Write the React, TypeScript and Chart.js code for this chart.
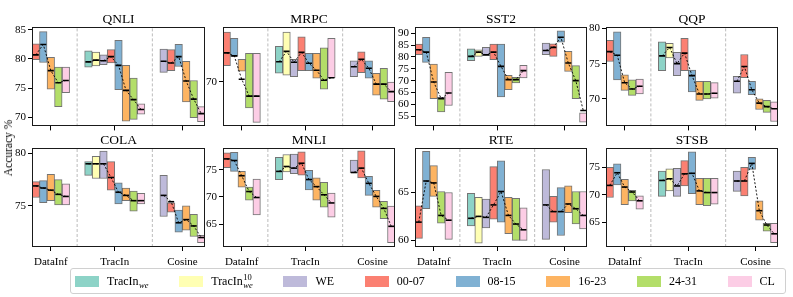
import React, { useEffect, useRef } from "react";
import { Chart, registerables } from "chart.js";

Chart.register(...registerables);

const SERIF = '"Liberation Serif", "Times New Roman", Times, serif';

// ---------------- data ----------------
const METHODS = ["DataInf", "TracIn", "Cosine"];
const SERIES_NAMES = ["TracIn", "TracIn", "WE", "00-07", "08-15", "16-23", "24-31", "CL"];
const SERIES_SUP = ["", "10", "", "", "", "", "", ""];
const SERIES_SUB = ["we", "we", "", "", "", "", "", ""];
const SERIES_COLORS = ["#8dd3c7", "#ffffb3", "#bebada", "#fb8072", "#80b1d3", "#fdb462", "#b3de69", "#fccde5"];
// which series appear inside each method group
const METHOD_SERIES = [
  [3, 4, 5, 6, 7],
  [0, 1, 2, 3, 4, 5, 6, 7],
  [2, 3, 4, 5, 6, 7],
];

const TASKS = ["QNLI", "MRPC", "SST2", "QQP", "COLA", "MNLI", "RTE", "STSB"];

// order in every array: DataInf(5) | TracIn(8) | Cosine(6)
const QNLI_LOW = [79.9, 79.4, 74.8, 71.8, 74.2, 78.6, 78.8, 79.0, 79.3, 74.7, 69.3, 69.6, 70.5, 77.7, 78.0, 78.7, 72.6, 69.9, 69.2];
const QNLI_HIGH = [82.6, 84.7, 80.3, 78.6, 78.6, 81.4, 81.2, 80.7, 81.6, 83.2, 78.9, 76.7, 72.3, 81.7, 81.6, 82.5, 79.6, 76.3, 71.8];
const QNLI_MID = [80.7, 82.5, 78.0, 75.9, 76.3, 79.5, 79.8, 79.7, 80.4, 78.9, 74.6, 73.0, 71.3, 79.6, 79.3, 80.4, 76.2, 73.1, 70.6];

const MRPC_LOW = [73.2, 75.1, 72.1, 64.7, 61.8, 71.7, 71.3, 71.0, 72.2, 72.2, 70.7, 68.5, 70.8, 71.0, 71.8, 70.7, 67.3, 66.5, 66.0];
const MRPC_HIGH = [80.0, 78.7, 74.5, 75.7, 75.7, 77.1, 80.0, 74.5, 79.0, 75.7, 75.7, 76.8, 78.7, 74.2, 76.0, 74.2, 71.7, 72.7, 69.9];
const MRPC_MID = [75.8, 75.2, 70.5, 67.1, 67.1, 74.0, 76.1, 73.9, 75.9, 73.7, 72.3, 70.3, 70.8, 73.0, 74.5, 72.7, 69.5, 69.5, 68.0];

const SST2_LOW = [80.9, 77.7, 62.4, 56.8, 59.5, 78.4, 80.2, 80.5, 78.8, 63.1, 66.2, 69.0, 71.1, 80.9, 80.2, 86.2, 73.9, 62.4, 52.5];
const SST2_HIGH = [85.4, 88.2, 77.0, 63.0, 73.5, 83.4, 83.0, 84.0, 85.4, 85.4, 72.2, 71.4, 76.4, 85.8, 85.5, 91.0, 82.3, 76.3, 56.4];
const SST2_MID = [83.0, 82.0, 69.4, 62.4, 64.8, 80.2, 82.0, 80.9, 82.0, 76.0, 70.4, 70.4, 74.2, 82.7, 84.0, 88.3, 77.4, 70.0, 57.4];

const QQP_LOW = [75.3, 72.7, 71.2, 70.5, 70.7, 74.0, 75.8, 73.3, 74.0, 71.0, 69.8, 70.0, 70.1, 70.8, 73.0, 70.6, 68.5, 68.1, 66.8];
const QQP_HIGH = [78.3, 79.5, 73.4, 72.7, 72.8, 78.1, 77.9, 76.6, 78.6, 74.1, 72.5, 72.5, 72.3, 73.2, 76.3, 72.5, 70.0, 69.8, 69.6];
const QQP_MID = [76.7, 76.2, 72.3, 71.4, 71.8, 76.1, 77.3, 75.0, 76.5, 73.3, 70.7, 70.7, 70.8, 72.5, 74.6, 71.3, 69.4, 68.9, 68.6];

const COLA_LOW = [75.8, 75.3, 75.5, 75.1, 75.1, 77.9, 77.6, 77.6, 76.5, 75.2, 75.5, 74.5, 75.2, 74.0, 74.4, 72.5, 72.7, 72.1, 71.5];
const COLA_HIGH = [77.3, 77.4, 78.0, 77.5, 77.1, 79.2, 79.7, 80.2, 79.2, 77.2, 76.7, 76.4, 76.2, 77.9, 75.3, 74.6, 75.0, 74.2, 72.2];
const COLA_MID = [76.9, 76.7, 76.5, 76.1, 75.9, 79.0, 79.0, 79.0, 77.7, 76.3, 76.0, 75.5, 75.5, 76.0, 75.4, 73.4, 73.7, 73.1, 72.0];

const MNLI_LOW = [75.4, 74.7, 71.8, 69.4, 66.7, 73.2, 74.6, 74.3, 74.0, 71.3, 69.4, 68.1, 66.3, 74.4, 73.5, 70.3, 68.1, 66.0, 61.6];
const MNLI_HIGH = [78.1, 78.2, 74.7, 71.8, 73.3, 77.3, 77.8, 77.9, 78.3, 74.9, 73.5, 72.7, 70.7, 76.8, 78.5, 73.8, 71.2, 69.2, 68.3];
const MNLI_MID = [77.0, 76.7, 73.9, 71.0, 69.9, 74.7, 75.6, 75.3, 76.2, 73.2, 71.9, 70.4, 68.9, 74.5, 75.3, 72.5, 70.1, 67.9, 64.6];

const RTE_LOW = [60.2, 63.3, 64.6, 61.8, 60.1, 61.5, 59.7, 61.3, 62.2, 61.9, 60.7, 60.0, 60.0, 60.1, 61.9, 60.5, 62.9, 61.7, 61.2];
const RTE_HIGH = [63.6, 69.3, 67.8, 65.1, 65.0, 64.9, 64.5, 64.3, 67.7, 68.3, 64.5, 64.4, 63.4, 67.4, 64.6, 65.5, 65.7, 65.1, 65.1];
const RTE_MID = [61.9, 66.2, 66.0, 62.6, 62.1, 62.3, 62.5, 62.4, 63.7, 65.1, 62.6, 61.7, 61.1, 63.7, 63.0, 63.0, 63.8, 63.3, 62.6];

const STSB_LOW = [69.5, 71.8, 68.2, 68.9, 67.4, 69.7, 70.7, 69.7, 71.6, 70.2, 68.2, 68.0, 68.3, 70.6, 69.8, 74.6, 65.4, 63.4, 61.3];
const STSB_HIGH = [75.0, 75.6, 72.8, 70.8, 69.8, 74.3, 74.7, 74.8, 76.2, 77.8, 73.0, 73.0, 73.0, 74.3, 75.0, 76.8, 68.9, 64.8, 64.8];
const STSB_MID = [71.7, 74.0, 71.4, 70.5, 68.9, 72.6, 72.9, 71.6, 73.8, 73.9, 70.7, 70.4, 70.4, 72.5, 72.5, 75.7, 67.1, 64.5, 62.9];

// y tick labels shown on each panel
const QNLI_TICKS = [70, 75, 80, 85];
const MRPC_TICKS = [70];
const SST2_TICKS = [55, 60, 65, 70, 75, 80, 85, 90];
const QQP_TICKS = [70, 75, 80];
const COLA_TICKS = [75, 80];
const MNLI_TICKS = [65, 70, 75];
const RTE_TICKS = [60, 65];
const STSB_TICKS = [65, 70, 75];

const LOWS = [QNLI_LOW, MRPC_LOW, SST2_LOW, QQP_LOW, COLA_LOW, MNLI_LOW, RTE_LOW, STSB_LOW];
const HIGHS = [QNLI_HIGH, MRPC_HIGH, SST2_HIGH, QQP_HIGH, COLA_HIGH, MNLI_HIGH, RTE_HIGH, STSB_HIGH];
const MIDS = [QNLI_MID, MRPC_MID, SST2_MID, QQP_MID, COLA_MID, MNLI_MID, RTE_MID, STSB_MID];
const TICKS = [QNLI_TICKS, MRPC_TICKS, SST2_TICKS, QQP_TICKS, COLA_TICKS, MNLI_TICKS, RTE_TICKS, STSB_TICKS];

// axis limits (scale settings)
const Y_MIN = [68.4, 61, 50.7, 66.1, 71.1, 60.8, 59.3, 60.5];
const Y_MAX = [85.5, 81, 92.6, 80.2, 80.5, 79.0, 69.65, 78.5];

// ---------------- layout ----------------
const COL_LEFT = [32, 223, 415, 606];
const COL_RIGHT = [205, 395, 587, 778];
const ROW_TOP = [27, 148];
const ROW_BOTTOM = [127, 247];

const framePlugin = {
  id: "frame",
  afterDraw(chart: any) {
    const { ctx, chartArea: a } = chart;
    ctx.save();
    ctx.strokeStyle = "#1a1a1a";
    ctx.lineWidth = 1;
    ctx.strokeRect(
      Math.round(a.left) + 0.5,
      Math.round(a.top) + 0.5,
      Math.round(a.right - a.left) - 1,
      Math.round(a.bottom - a.top) - 1
    );
    ctx.restore();
  },
};

function Panel({ idx }: { idx: number }) {
  const ref = useRef<HTMLCanvasElement>(null);
  const col = idx % 4;
  const row = Math.floor(idx / 4);
  const L = COL_LEFT[col], R = COL_RIGHT[col], T = ROW_TOP[row], B = ROW_BOTTOM[row];
  const AW = 30, TH = 20, RP = 2, XH = row === 1 ? 24 : 8;
  const cw = AW + (R - L) + RP;
  const ch = TH + (B - T) + XH;

  useEffect(() => {
    const canvas = ref.current;
    if (!canvas) return;
    const low = LOWS[idx], high = HIGHS[idx], mid = MIDS[idx];
    const yMin = Y_MIN[idx], yMax = Y_MAX[idx];

    const xs: number[] = [];
    const sIdx: number[] = [];
    const groups: number[][] = [];
    const seps: number[] = [];
    const centers: number[] = [];
    let pos = 0;
    METHOD_SERIES.forEach((members, gi) => {
      if (gi > 0) {
        seps.push(pos + 0.5);
        pos += 2;
      }
      const g: number[] = [];
      members.forEach((s) => {
        g.push(xs.length);
        xs.push(pos);
        sIdx.push(s);
        pos++;
      });
      groups.push(g);
      centers.push((xs[g[0]] + xs[g[g.length - 1]]) / 2);
    });

    const datasets: any[] = [];
    groups.forEach((g) =>
      datasets.push({
        type: "line",
        data: g.map((i) => ({ x: xs[i], y: mid[i] })),
        borderColor: "#000",
        borderWidth: 0.9,
        borderDash: [2, 1.8],
        pointStyle: "line",
        pointRadius: 3,
        pointBorderWidth: 1.6,
        pointBorderColor: "#000",
        pointBackgroundColor: "#000",
        order: 0,
      })
    );
    seps.forEach((s) =>
      datasets.push({
        type: "line",
        data: [
          { x: s, y: yMin },
          { x: s, y: yMax },
        ],
        borderColor: "#b4b4b4",
        borderWidth: 0.9,
        borderDash: [3, 2],
        pointRadius: 0,
        order: 1,
      })
    );
    datasets.push({
      type: "bar",
      data: xs.map((x, i) => ({ x, y: [low[i], high[i]] })),
      backgroundColor: sIdx.map((s) => SERIES_COLORS[s]),
      borderColor: "rgba(70,70,70,0.75)",
      borderWidth: 1,
      borderSkipped: false,
      barPercentage: 1,
      categoryPercentage: 1,
      grouped: false,
      order: 2,
    });

    const gridOpts = {
      display: true,
      drawOnChartArea: false,
      drawTicks: true,
      tickLength: 4,
      color: "#000",
      lineWidth: 1,
      offset: false,
    };

    const chart = new Chart(canvas, {
      type: "bar",
      data: { datasets },
      options: {
        responsive: false,
        animation: false,
        devicePixelRatio: 1,
        layout: { padding: { left: 0, right: RP, top: 0, bottom: 0 }, autoPadding: false },
        plugins: {
          legend: { display: false },
          tooltip: { enabled: false },
          title: {
            display: true,
            text: TASKS[idx],
            fullSize: false,
            color: "#000",
            font: { family: SERIF, size: 13.5, weight: "normal", lineHeight: 1 },
            padding: { top: 6, bottom: 0.5 },
          },
        },
        scales: {
          x: {
            type: "linear",
            min: -0.5,
            max: pos - 0.5,
            offset: false,
            grid: gridOpts,
            border: { display: false },
            ticks: {
              autoSkip: false,
              maxRotation: 0,
              padding: 5,
              color: "#000",
              font: { family: SERIF, size: 11 },
              callback: (v: any) => {
                const k = centers.indexOf(Number(v));
                return row === 1 && k >= 0 ? METHODS[k] : "";
              },
            },
            afterBuildTicks: (s: any) => {
              s.ticks = centers.map((v) => ({ value: v }));
            },
            afterFit: (s: any) => {
              s.height = XH;
            },
          },
          y: {
            type: "linear",
            min: yMin,
            max: yMax,
            grid: gridOpts,
            border: { display: false },
            ticks: {
              autoSkip: false,
              padding: 2,
              color: "#000",
              font: { family: SERIF, size: 11 },
              callback: (v: any) => String(v),
            },
            afterBuildTicks: (s: any) => {
              s.ticks = TICKS[idx].map((v) => ({ value: v }));
            },
            afterFit: (s: any) => {
              s.width = AW;
            },
          },
        },
      } as any,
      plugins: [framePlugin],
    } as any);
    return () => chart.destroy();
  }, [idx]);

  return (
    <canvas
      ref={ref}
      width={cw}
      height={ch}
      style={{ position: "absolute", left: L - AW, top: T - TH, width: cw, height: ch }}
    />
  );
}

function LegendLabel({ i }: { i: number }) {
  const sup = SERIES_SUP[i];
  const sub = SERIES_SUB[i];
  return (
    <span style={{ display: "inline-flex", alignItems: "center", whiteSpace: "nowrap" }}>
      {SERIES_NAMES[i]}
      {(sup || sub) && (
        <span
          style={{
            display: "inline-flex",
            flexDirection: "column",
            fontSize: 8.5,
            lineHeight: "8px",
            marginLeft: 0.5,
            marginTop: sup ? 0 : 8,
          }}
        >
          {sup && <span>{sup}</span>}
          {sub && <span style={{ fontStyle: "italic" }}>{sub}</span>}
        </span>
      )}
    </span>
  );
}

export default function App() {
  return (
    <div
      style={{
        position: "fixed",
        left: 0,
        top: 0,
        width: 793,
        height: 297,
        background: "#fff",
        fontFamily: SERIF,
        color: "#000",
        overflow: "hidden",
      }}
    >
      {TASKS.map((t, i) => (
        <Panel key={t} idx={i} />
      ))}
      <div
        style={{
          position: "absolute",
          left: 8,
          top: 148,
          transform: "translate(-50%, -50%) rotate(-90deg)",
          fontSize: 11.5,
          whiteSpace: "nowrap",
        }}
      >
        Accuracy %
      </div>
      <div
        style={{
          position: "absolute",
          left: 70,
          top: 268,
          width: 716,
          height: 26,
          boxSizing: "border-box",
          border: "1px solid #d0d0d0",
          borderRadius: 3,
          display: "flex",
          alignItems: "center",
          justifyContent: "space-between",
          padding: "0 10px 0 4px",
          fontSize: 12,
        }}
      >
        {SERIES_NAMES.map((_, i) => (
          <div key={i} style={{ display: "flex", alignItems: "center" }}>
            <span
              style={{
                display: "inline-block",
                width: 24,
                height: 11,
                background: SERIES_COLORS[i],
                marginRight: 8,
              }}
            />
            <LegendLabel i={i} />
          </div>
        ))}
      </div>
    </div>
  );
}
